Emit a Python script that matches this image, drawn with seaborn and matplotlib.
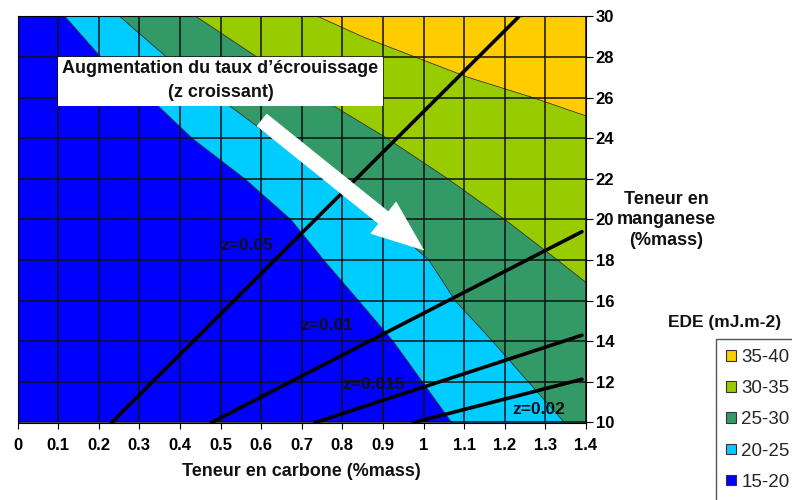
import numpy as np
import pandas as pd
import matplotlib
matplotlib.use("Agg")
import matplotlib.pyplot as plt
from matplotlib.patches import Patch, Rectangle
import seaborn as sns

# EDE band boundaries (carbon %mass at each manganese %mass)
mn_rows = [30, 28, 26, 24, 22, 20, 18, 16, 14, 12, 10]
edge20_c = [0.117, 0.205, 0.325, 0.43, 0.56, 0.673, 0.754, 0.84, 0.925, 0.997, 1.069]
edge25_c = [0.252, 0.367, 0.495, 0.63, 0.765, 0.90, 1.013, 1.078, 1.17, 1.258, 1.347]
edge30_mn = [30, 28, 26, 24, 22, 20, 18, 16.9]
edge30_c = [0.44, 0.59, 0.745, 0.91, 1.06, 1.20, 1.33, 1.40]
edge35_mn = [30, 29, 28, 27, 26, 25.1]
edge35_c = [0.74, 0.85, 0.98, 1.11, 1.27, 1.40]

band_labels = ["35-40", "30-35", "25-30", "20-25", "15-20"]
band_colors = ["#FFCC00", "#99CC00", "#339966", "#00CCFF", "#0000FF"]

# iso-z lines (start / end points)
z_labels = ["z=0.05", "z=0.01", "z=0.015", "z=0.02"]
z_c0 = [0.232, 0.478, 0.733, 0.975]
z_mn0 = [10, 10, 10, 10]
z_c1 = [1.235, 1.39, 1.39, 1.39]
z_mn1 = [30, 19.4, 14.3, 12.13]
z_text_c = [0.565, 0.762, 0.876, 1.283]
z_text_mn = [18.74, 14.8, 11.88, 10.62]

x_ticks = np.round(np.arange(0, 1.41, 0.1), 1)
y_ticks = list(range(10, 31, 2))
x_ticklabels = ["0", "0.1", "0.2", "0.3", "0.4", "0.5", "0.6", "0.7", "0.8", "0.9",
                "1", "1.1", "1.2", "1.3", "1.4"]

sns.set_theme(style="white")
plt.rcParams["font.family"] = ["Liberation Sans", "DejaVu Sans"]

fig = plt.figure(figsize=(7.92, 5.0), dpi=100)
ax = fig.add_axes([17.5 / 792, 1 - 422.5 / 500, (586 - 17.5) / 792, (422.5 - 16.5) / 500])

# bands painted from low to high EDE
ax.fill_betweenx(mn_rows, 0, 1.4, color=band_colors[4], lw=0, zorder=1)
ax.fill_betweenx(mn_rows, edge20_c, 1.4, color=band_colors[3], lw=0, zorder=1)
ax.fill_betweenx(mn_rows, edge25_c, 1.4, color=band_colors[2], lw=0, zorder=1)
ax.fill_betweenx(edge30_mn, edge30_c, 1.4, color=band_colors[1], lw=0, zorder=1)
ax.fill_betweenx(edge35_mn, edge35_c, 1.4, color=band_colors[0], lw=0, zorder=1)
for cs, ms in [(edge20_c, mn_rows), (edge25_c, mn_rows), (edge30_c, edge30_mn), (edge35_c, edge35_mn)]:
    ax.plot(cs, ms, color="#333333", lw=0.6, zorder=1.2)

# cell grid over the surface
ax.vlines(x_ticks, 10, 30, colors="#111111", lw=1.1, zorder=2)
ax.hlines(y_ticks, 0, 1.4, colors="#111111", lw=1.1, zorder=2)

# z lines
zdf = pd.DataFrame({
    "c": z_c0 + z_c1,
    "mn": z_mn0 + z_mn1,
    "z": z_labels + z_labels,
})
sns.lineplot(data=zdf, x="c", y="mn", units="z", estimator=None, color="black",
             lw=2.6, ax=ax, zorder=4, legend=False)
for lab, c, m in zip(z_labels, z_text_c, z_text_mn):
    ax.text(c, m, lab, ha="center", va="center", fontsize=12.5, fontweight="bold",
            color="#111111", zorder=6)

# annotation box + arrow
ax.add_patch(Rectangle((0.1, 25.6), 0.8, 2.4, facecolor="white", edgecolor="none", zorder=3))
ax.text(0.5, 27.45, "Augmentation du taux d’écrouissage", ha="center", va="center",
        fontsize=13, fontweight="bold", color="#111111", zorder=3.5)
ax.text(0.5, 26.25, "(z croissant)", ha="center", va="center",
        fontsize=13, fontweight="bold", color="#111111", zorder=3.5)
ax.annotate("", xy=(1.0, 18.5), xytext=(0.602, 24.9),
            arrowprops=dict(arrowstyle="simple,head_length=3.7,head_width=2.9,tail_width=1.1",
                            mutation_scale=10, fc="white", ec="white", lw=0.5,
                            shrinkA=0, shrinkB=0),
            zorder=5)

ax.set_xlim(0, 1.4)
ax.set_ylim(10, 30)
ax.set_xticks(x_ticks)
ax.set_xticklabels(x_ticklabels)
ax.set_yticks(y_ticks)
ax.yaxis.tick_right()
ax.grid(False)
ax.tick_params(axis="x", bottom=True, direction="out", length=4, width=0.8, pad=7,
               labelsize=12, colors="black")
ax.tick_params(axis="y", right=True, left=False, direction="out", length=5, width=0.8, pad=2,
               labelsize=12, colors="black")
for lbl in ax.get_xticklabels() + ax.get_yticklabels():
    lbl.set_fontweight("bold")
for sp in ax.spines.values():
    sp.set_color("black")
    sp.set_linewidth(0.8)
ax.set_xlabel("")
ax.set_ylabel("")

fig.text(301 / 792, 1 - 472 / 500, "Teneur en carbone (%mass)", ha="center", va="center",
         fontsize=13, fontweight="bold", color="#111111")
fig.text(666 / 792, 1 - 220 / 500, "Teneur en\nmanganese\n(%mass)", ha="center", va="center",
         fontsize=13, fontweight="bold", color="#111111", linespacing=1.3)

fig.text(725 / 792, 1 - 322 / 500, "EDE (mJ.m-2)", ha="center", va="center",
         fontsize=12.5, fontweight="bold", color="#111111")
handles = [Patch(facecolor=c, edgecolor="#333333", lw=0.8) for c in band_colors]
fig.legend(handles, band_labels, loc="upper left", bbox_to_anchor=(716 / 792, 1 - 339 / 500),
           frameon=True, fancybox=False, edgecolor="#555555", framealpha=1,
           fontsize=13.5, handlelength=0.5, handleheight=0.5, handletextpad=0.3,
           labelspacing=0.75, borderpad=0.55, borderaxespad=0)

fig.savefig("out.png", dpi=100)
